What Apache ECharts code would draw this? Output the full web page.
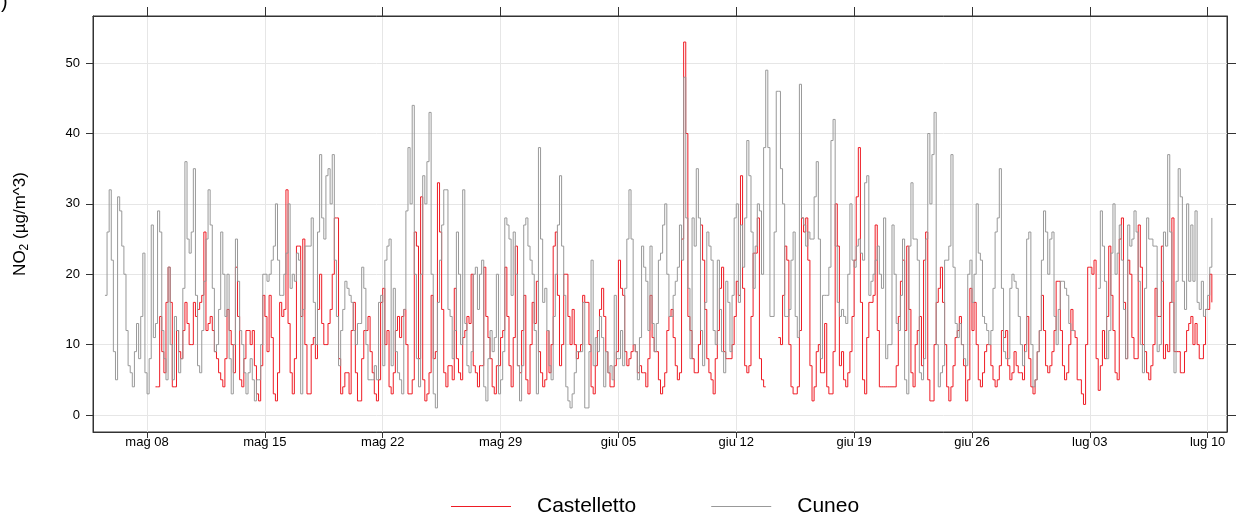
<!DOCTYPE html>
<html>
<head>
<meta charset="utf-8">
<script src="https://cdn.jsdelivr.net/npm/echarts@6/dist/echarts.min.js"></script>
<style>
  html, body { margin: 0; padding: 0; background: #fff; }
  #chart { width: 1236px; height: 515px; }
</style>
</head>
<body>
<div id="chart"></div>
<script>
// hourly NO2 every 3 hours, from 5 May 12:00
const seriesStart = Date.UTC(2023, 4, 5, 12);
const stepHours = 3;

// Cuneo (grey)
const cuneo = [
  17, 26, 32, 22,                 // mag 05 (from 12h)
  9, 5, 31, 29, 24, 20, 12, 7,    // mag 06
  6, 4, 9, 13, 8, 14, 23, 6,
  3, 8, 27, 11, 13, 29, 26, 12,   // mag 08
  8, 5, 21, 10, 5, 14, 12, 6,
  8, 18, 36, 25, 23, 26, 35, 17,
  7, 6, 12, 19, 25, 32, 27, 18,
  9, 10, 15, 26, 20, 14, 20, 8,
  3, 10, 25, 19, 12, 10, 6, 3,
  6, 8, 5, 2, 5, 5, 10, 20,
  20, 19, 20, 22, 24, 30, 22, 17, // mag 15
  17, 20, 23, 30, 18, 20, 19, 23,
  22, 3, 15, 24, 24, 24, 28, 16,
  10, 26, 37, 28, 25, 34, 35, 30,
  37, 22, 14, 7, 12, 15, 19, 18,
  17, 16, 12, 10, 13, 13, 21, 18,
  10, 5, 5, 5, 7, 5, 16, 17,
  7, 22, 24, 25, 7, 18, 9, 6,     // mag 22
  5, 3, 15, 29, 38, 30, 44, 20,
  8, 4, 20, 34, 30, 36, 43, 20,
  3, 1, 16, 22, 27, 32, 32, 15,
  14, 8, 12, 26, 20, 10, 32, 13,
  7, 6, 9, 20, 21, 15, 20, 22,
  4, 2, 8, 12, 9, 11, 20, 3,
  5, 9, 28, 27, 25, 17, 26, 20,   // mag 29
  7, 2, 7, 27, 28, 24, 22, 20,
  12, 3, 38, 25, 16, 18, 12, 7,
  5, 14, 20, 27, 34, 24, 17, 4,   // giu 01
  2, 1, 3, 6, 9, 9, 9, 16,
  1, 1, 9, 22, 7, 11, 9, 14,
  11, 4, 9, 6, 7, 5, 17, 8,
  8, 12, 7, 18, 25, 32, 25, 10,   // giu 05
  9, 5, 11, 24, 21, 19, 12, 24,
  13, 9, 13, 22, 23, 27, 30, 20,
  14, 14, 17, 19, 21, 27, 22, 48,
  28, 18, 8, 28, 24, 35, 28, 12,
  7, 16, 26, 24, 22, 12, 10, 22,
  15, 9, 6, 19, 16, 9, 17, 28,
  30, 16, 27, 21, 28, 39, 34, 26, // giu 12
  18, 24, 30, 29, 20, 38, 49, 38,
  14, 14, 26, 46, 46, 35, 30, 14,
  14, 15, 22, 26, 14, 11, 47, 28,
  27, 24, 26, 25, 25, 31, 36, 25,
  8, 17, 17, 17, 21, 39, 42, 24,
  16, 14, 15, 14, 13, 20, 30, 22,
  21, 24, 25, 23, 22, 33, 34, 17, // giu 19
  19, 20, 22, 24, 20, 18, 28, 8,
  10, 10, 27, 20, 13, 12, 17, 25,
  5, 3, 24, 33, 25, 25, 22, 6,
  5, 8, 25, 40, 30, 37, 43, 10,
  4, 6, 7, 22, 22, 24, 37, 21,
  13, 11, 13, 10, 8, 7, 20, 22,
  16, 20, 30, 23, 22, 14, 13, 12, // giu 26
  10, 12, 18, 26, 28, 35, 18, 9,
  8, 8, 18, 20, 19, 18, 14, 10,
  7, 9, 25, 26, 10, 4, 5, 9,
  12, 22, 29, 26, 20, 25, 26, 14,
  10, 15, 19, 19, 18, 17, 13, 12, // lug 01
  12, null, null, null, null, null, null, null,
  null, null, null, null, 18, 29, 24, 19, // lug 03
  8, 12, 23, 30, 20, 23, 27, 22,
  15, 8, 27, 24, 25, 29, 26, 19,
  10, 6, 18, 28, 25, 25, 24, 24,
  9, 10, 19, 26, 24, 37, 26, 16,
  6, 19, 35, 31, 19, 15, 30, 19,
  27, 19, 29, 16, 15, 19, 14, 15,
  17, 21, 28                      // lug 10
];

// Castelletto (red)
const castelletto = [
  null, null, null, null,
  null, null, null, null, null, null, null, null,
  null, null, null, null, null, null, null, null,
  null, null, null, null, 4, 4, 14, 9,   // mag 08
  6, 16, 21, 16, 4, 4, 12, 9,
  8, 12, 16, 13, 10, 10, 16, 14,
  15, 16, 17, 26, 12, 13, 14, 12,
  9, 8, 6, 5, 4, 8, 15, 12,
  10, 6, 21, 14, 5, 4, 8, 12,
  12, 10, 12, 7, 3, 2, 7, 17,
  14, 9, 17, 11, 3, 2, 6, 16,     // mag 15
  14, 15, 32, 13, 6, 3, 8, 24,
  24, 14, 25, 10, 3, 3, 10, 11,
  8, 15, 20, 13, 10, 10, 13, 15,
  20, 28, 28, 8, 3, 4, 6, 6,
  3, 12, 16, 6, 2, 2, 8, 12,
  12, 14, 9, 6, 3, 2, 5, 16,
  18, 10, 12, 4, 3, 6, 12, 14,    // mag 22
  11, 14, 15, 10, 3, 3, 5, 26,
  24, 8, 31, 5, 2, 3, 6, 17,
  8, 9, 33, 26, 15, 6, 4, 7,
  7, 5, 18, 8, 6, 5, 11, 12,
  14, 13, 20, 7, 6, 4, 7, 7,
  21, 14, 11, 8, 4, 3, 7, 7,
  11, 12, 21, 14, 7, 4, 11, 24,   // mag 29
  7, 6, 12, 17, 5, 3, 10, 16,
  13, 19, 9, 6, 4, 5, 12, 6,
  10, 24, 26, 17, 7, 10, 20, 20,  // giu 01
  14, 10, 15, 10, 8, 9, 10, 17,
  16, 16, 10, 4, 3, 7, 12, 15,
  18, 14, 9, 6, 4, 4, 7, 9,
  22, 18, 17, 9, 7, 8, 9, 10,     // giu 05
  9, 6, 7, 6, 6, 4, 8, 17,
  11, 9, 9, 5, 3, 4, 6, 12,
  14, 15, 11, 7, 5, 6, 25, 53,
  40, 14, 12, 8, 6, 6, 10, 27,
  22, 15, 8, 6, 5, 3, 8, 12,
  18, 21, 9, 8, 8, 8, 10, 14,
  19, 17, 34, 18, 7, 6, 7, 14,    // giu 12
  23, 23, 28, 8, 5, 4, null, null,
  null, null, null, null, 11, 10, 17, 24,
  22, 10, 4, 3, 3, 4, 12, 28,
  26, 28, 22, 7, 2, 4, 9, 10,
  6, 6, 13, 4, 3, 3, 9, 30,
  24, 7, 9, 5, 4, 6, 9, 14,
  22, 31, 38, 16, 5, 3, 11, 16,   // giu 19
  16, 17, 27, 12, 4, 4, 4, 4,
  4, 4, 4, 4, 7, 14, 19, 22,
  12, 24, 15, 6, 4, 10, 12, 14,
  7, 22, 26, 5, 2, 2, 10, 16,
  18, 21, 16, 10, 4, 2, 4, 7,
  11, 12, 14, 10, 7, 2, 5, 18,
  12, 16, 10, 5, 4, 6, 9, 10,     // giu 26
  10, 7, 5, 4, 5, 7, 12, 11,
  12, 7, 5, 6, 9, 7, 6, 6,
  5, 10, 14, 8, 4, 3, 5, 9,
  12, 17, 12, 7, 6, 7, 9, 12,
  19, 19, 12, 7, 5, 6, 10, 15,    // lug 01
  12, 11, 5, 5, 3, 1.5, 10, 21,
  21, 20, 22, 8, 3.5, 7, 12, 8,   // lug 03
  14, 24, 17, 12, 6, 5, 25, 28,
  16, 8, 22, 20, 11, 8, 8, 27,
  21, 10, 9, 6, 5, 7, 10, 18,
  14, 14, 24, 8, 10, 9, 16, 28,
  9, 9, 9, 6, 6, 9, 12, 13,
  14, 10, 13, 10, 8, 8, 10, 15,
  15, 20, 16                      // lug 10
];

const tickDates = ['2023-05-08', '2023-05-15', '2023-05-22', '2023-05-29', '2023-06-05',
  '2023-06-12', '2023-06-19', '2023-06-26', '2023-07-03', '2023-07-10'];
const tickLabels = ['mag 08', 'mag 15', 'mag 22', 'mag 29', 'giu 05',
  'giu 12', 'giu 19', 'giu 26', 'lug 03', 'lug 10'];
const yTicks = [0, 10, 20, 30, 40, 50];

const HOUR = 3600 * 1000;
const DAY = 24 * HOUR;
const tickValues = tickDates.map(d => new Date(d + 'T00:00:00Z').getTime());
const labelOf = {};
tickValues.forEach((v, i) => { labelOf[v] = tickLabels[i]; });

const toPoints = arr => arr.map((v, i) => [seriesStart + i * stepHours * HOUR, v]);

const ref = tickValues[0];
const xMin = ref - 3.21 * DAY;
const xMax = ref + 64.15 * DAY;
const yMin = -2.42;
const yMax = 56.7;

const redColor = '#ee1c25';
const greyColor = '#999999';
const axisColor = '#333';
const gridColor = '#e6e6e6';
const font = 'Liberation Sans, Arial, sans-serif';

const chart = echarts.init(document.getElementById('chart'));
chart.setOption({
  animation: false,
  backgroundColor: '#fff',
  grid: {
    left: 93, right: 9, top: 16, bottom: 83,
    containLabel: false,
    outerBoundsMode: 'none',
    show: true, borderColor: axisColor, borderWidth: 1
  },
  legend: {
    left: 446, top: 491,
    icon: 'rect',
    itemWidth: 60, itemHeight: 1, itemGap: 75,
    textStyle: { fontSize: 21, color: '#000', fontFamily: font, padding: [0, 0, 0, 21] },
    data: [
      { name: 'Castelletto', itemStyle: { color: redColor, borderWidth: 0 } },
      { name: 'Cuneo', itemStyle: { color: greyColor, borderWidth: 0 } }
    ]
  },
  graphic: [{
    type: 'text', left: 1, top: -8,
    style: { text: ')', fontSize: 20, fill: '#000', fontFamily: font }
  }],
  xAxis: [{
    type: 'value', position: 'bottom', min: xMin, max: xMax,
    axisLine: { show: true, onZero: false, lineStyle: { color: axisColor, width: 1 } },
    axisTick: { show: true, customValues: tickValues, length: 6, lineStyle: { color: axisColor } },
    axisLabel: {
      customValues: tickValues,
      formatter: v => labelOf[v] || '',
      color: '#000', fontSize: 13, fontFamily: font, margin: 4
    },
    splitLine: { show: true, lineStyle: { color: gridColor, width: 1 } }
  }, {
    type: 'value', position: 'top', min: xMin, max: xMax,
    axisLine: { show: true, onZero: false, lineStyle: { color: axisColor, width: 1 } },
    axisTick: { show: true, customValues: tickValues, length: 9, lineStyle: { color: axisColor } },
    axisLabel: { show: false },
    splitLine: { show: false }
  }],
  yAxis: [{
    type: 'value', position: 'left', min: yMin, max: yMax,
    name: '{n|NO}{s|2}{n| (µg/m^3)}',
    nameLocation: 'middle', nameRotate: 90, nameGap: 62,
    nameTextStyle: {
      color: '#000', fontFamily: font,
      rich: {
        n: { fontSize: 17, fontFamily: font, color: '#000', lineHeight: 22 },
        s: { fontSize: 12, fontFamily: font, color: '#000', lineHeight: 22, verticalAlign: 'bottom' }
      }
    },
    axisLine: { show: true, onZero: false, lineStyle: { color: axisColor, width: 1 } },
    axisTick: { show: true, customValues: yTicks, length: 7, lineStyle: { color: axisColor } },
    axisLabel: { customValues: yTicks, color: '#000', fontSize: 13, fontFamily: font, margin: 13 },
    splitLine: { show: true, lineStyle: { color: gridColor, width: 1 } }
  }, {
    type: 'value', position: 'right', min: yMin, max: yMax,
    axisLine: { show: true, onZero: false, lineStyle: { color: axisColor, width: 1 } },
    axisTick: { show: true, customValues: yTicks, length: 9, lineStyle: { color: axisColor } },
    axisLabel: { show: false },
    splitLine: { show: false }
  }],
  series: [{
    name: 'Castelletto', type: 'line', step: 'end',
    xAxisIndex: 0, yAxisIndex: 0,
    data: toPoints(castelletto),
    symbol: 'none', connectNulls: false, silent: true,
    lineStyle: { color: redColor, width: 1 },
    itemStyle: { color: redColor }
  }, {
    name: 'Cuneo', type: 'line', step: 'end',
    xAxisIndex: 0, yAxisIndex: 0,
    data: toPoints(cuneo),
    symbol: 'none', connectNulls: false, silent: true,
    lineStyle: { color: greyColor, width: 1 },
    itemStyle: { color: greyColor }
  }]
});
</script>
</body>
</html>
